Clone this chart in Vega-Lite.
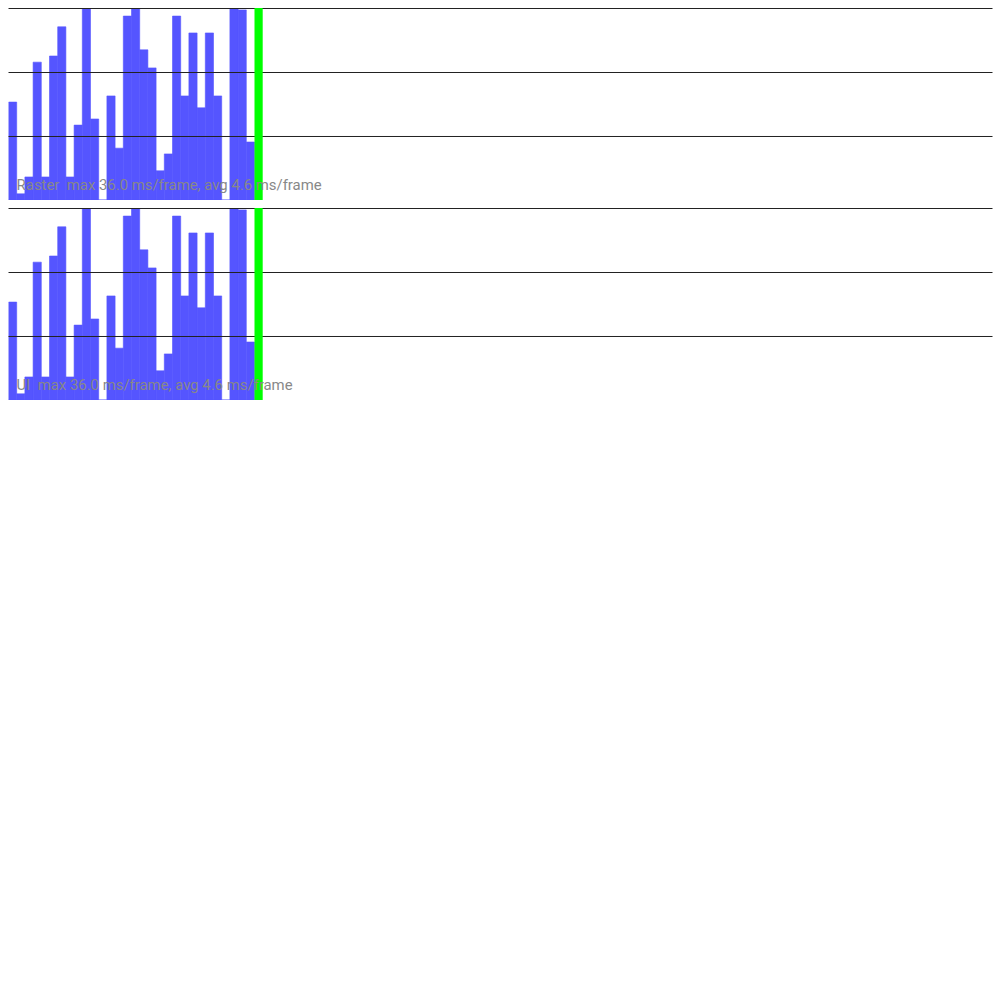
{
  "$schema": "https://vega.github.io/schema/vega-lite/v6.json",
  "padding": {"left": 7.5, "top": 8, "right": 8, "bottom": 8},
  "background": "white",
  "spacing": 8,
  "config": {"view": {"stroke": null}, "concat": {"spacing": 8}},
  "datasets": {
    "frames": [
      {"i": 0, "ms": 25.5}, {"i": 1, "ms": 1.6}, {"i": 2, "ms": 6.0}, {"i": 3, "ms": 35.9},
      {"i": 4, "ms": 6.0}, {"i": 5, "ms": 37.5}, {"i": 6, "ms": 45.1}, {"i": 7, "ms": 6.0},
      {"i": 8, "ms": 19.5}, {"i": 9, "ms": 50}, {"i": 10, "ms": 21.1}, {"i": 11, "ms": 0},
      {"i": 12, "ms": 27.1}, {"i": 13, "ms": 13.5}, {"i": 14, "ms": 47.9}, {"i": 15, "ms": 50},
      {"i": 16, "ms": 39.1}, {"i": 17, "ms": 34.4}, {"i": 18, "ms": 7.6}, {"i": 19, "ms": 12.0},
      {"i": 20, "ms": 47.9}, {"i": 21, "ms": 27.1}, {"i": 22, "ms": 43.5}, {"i": 23, "ms": 24.0},
      {"i": 24, "ms": 43.5}, {"i": 25, "ms": 27.1}, {"i": 26, "ms": 0}, {"i": 27, "ms": 50},
      {"i": 28, "ms": 49.5}, {"i": 29, "ms": 15.1}
    ],
    "cursor": [{"i": 30, "ms": 50}],
    "budget": [{"ms": 16.667}, {"ms": 33.333}, {"ms": 50}],
    "labels": [
      {"thread": "Raster", "label": "Raster \u00a0max 36.0 ms/frame, avg 4.6 ms/frame"},
      {"thread": "UI", "label": "UI \u00a0max 36.0 ms/frame, avg 4.6 ms/frame"}
    ]
  },
  "vconcat": [
    {
      "width": 984,
      "height": 192,
      "layer": [
        {
          "data": {"name": "frames"},
          "mark": {"type": "bar", "color": "#5555ff", "stroke": "#5555ff", "strokeWidth": 0.6, "clip": true},
          "encoding": {
            "x": {"field": "i", "type": "ordinal", "axis": null,
                  "scale": {"paddingInner": 0, "paddingOuter": 0, "domain": [0,1,2,3,4,5,6,7,8,9,10,11,12,13,14,15,16,17,18,19,20,21,22,23,24,25,26,27,28,29,30,31,32,33,34,35,36,37,38,39,40,41,42,43,44,45,46,47,48,49,50,51,52,53,54,55,56,57,58,59,60,61,62,63,64,65,66,67,68,69,70,71,72,73,74,75,76,77,78,79,80,81,82,83,84,85,86,87,88,89,90,91,92,93,94,95,96,97,98,99,100,101,102,103,104,105,106,107,108,109,110,111,112,113,114,115,116,117,118,119]}},
            "y": {"field": "ms", "type": "quantitative", "axis": null, "scale": {"domain": [0, 50], "nice": false, "zero": true}}
          }
        },
        {
          "data": {"name": "budget"},
          "mark": {"type": "rule", "color": "#222222", "strokeWidth": 1, "yOffset": 0.5},
          "encoding": {
            "y": {"field": "ms", "type": "quantitative"}
          }
        },
        {
          "data": {"name": "cursor"},
          "mark": {"type": "bar", "color": "#00ff00", "clip": true},
          "encoding": {
            "x": {"field": "i", "type": "ordinal"},
            "y": {"field": "ms", "type": "quantitative"}
          }
        },
        {
          "data": {"name": "labels"},
          "transform": [{"filter": "datum.thread === 'Raster'"}],
          "mark": {"type": "text", "font": "Roboto", "fontSize": 14.9, "color": "#888888", "align": "left", "baseline": "alphabetic", "dx": 4, "dy": -10},
          "encoding": {
            "x": {"datum": 0, "type": "ordinal"},
            "y": {"datum": 0, "type": "quantitative"},
            "text": {"field": "label"}
          }
        }
      ]
    },
    {
      "width": 984,
      "height": 192,
      "layer": [
        {
          "data": {"name": "frames"},
          "mark": {"type": "bar", "color": "#5555ff", "stroke": "#5555ff", "strokeWidth": 0.6, "clip": true},
          "encoding": {
            "x": {"field": "i", "type": "ordinal", "axis": null,
                  "scale": {"paddingInner": 0, "paddingOuter": 0, "domain": [0,1,2,3,4,5,6,7,8,9,10,11,12,13,14,15,16,17,18,19,20,21,22,23,24,25,26,27,28,29,30,31,32,33,34,35,36,37,38,39,40,41,42,43,44,45,46,47,48,49,50,51,52,53,54,55,56,57,58,59,60,61,62,63,64,65,66,67,68,69,70,71,72,73,74,75,76,77,78,79,80,81,82,83,84,85,86,87,88,89,90,91,92,93,94,95,96,97,98,99,100,101,102,103,104,105,106,107,108,109,110,111,112,113,114,115,116,117,118,119]}},
            "y": {"field": "ms", "type": "quantitative", "axis": null, "scale": {"domain": [0, 50], "nice": false, "zero": true}}
          }
        },
        {
          "data": {"name": "budget"},
          "mark": {"type": "rule", "color": "#222222", "strokeWidth": 1, "yOffset": 0.5},
          "encoding": {
            "y": {"field": "ms", "type": "quantitative"}
          }
        },
        {
          "data": {"name": "cursor"},
          "mark": {"type": "bar", "color": "#00ff00", "clip": true},
          "encoding": {
            "x": {"field": "i", "type": "ordinal"},
            "y": {"field": "ms", "type": "quantitative"}
          }
        },
        {
          "data": {"name": "labels"},
          "transform": [{"filter": "datum.thread === 'UI'"}],
          "mark": {"type": "text", "font": "Roboto", "fontSize": 14.9, "color": "#888888", "align": "left", "baseline": "alphabetic", "dx": 4, "dy": -10},
          "encoding": {
            "x": {"datum": 0, "type": "ordinal"},
            "y": {"datum": 0, "type": "quantitative"},
            "text": {"field": "label"}
          }
        }
      ]
    }
  ]
}
